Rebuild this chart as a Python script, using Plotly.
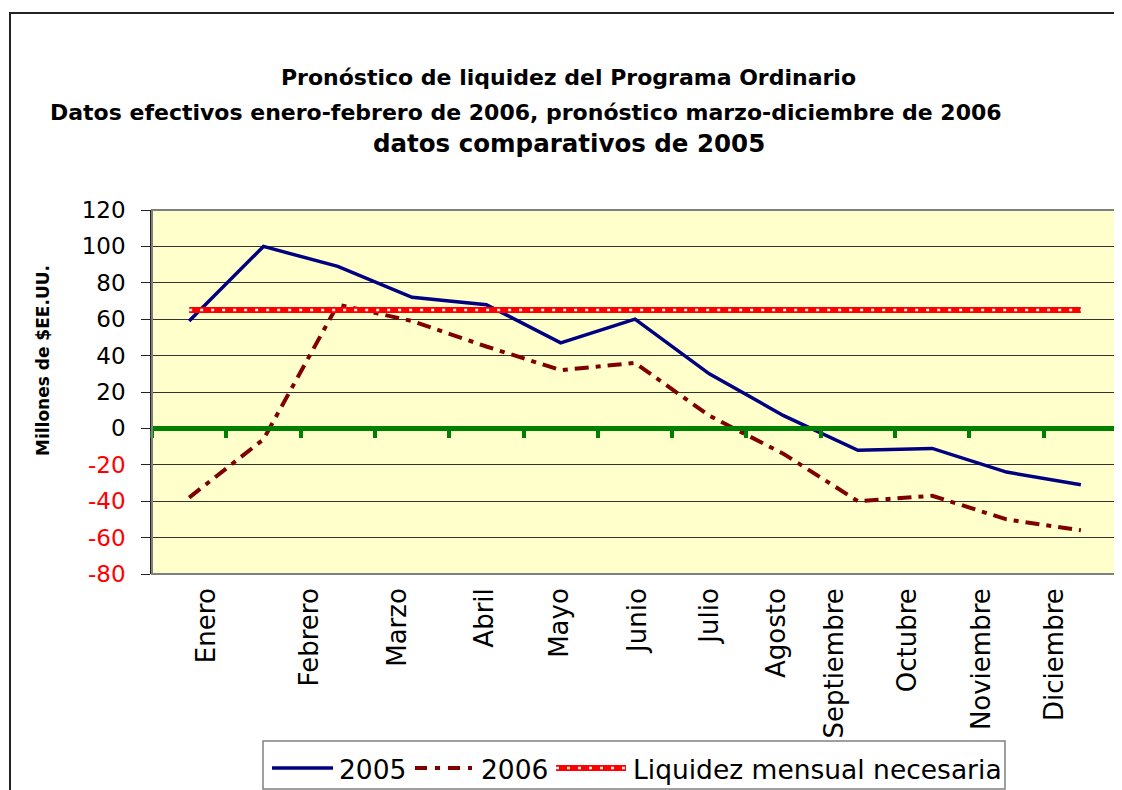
import plotly.graph_objects as go

# ---------------- data ----------------
MONTHS = ["Enero", "Febrero", "Marzo", "Abril", "Mayo", "Junio", "Julio",
          "Agosto", "Septiembre", "Octubre", "Noviembre", "Diciembre"]
SERIES_2005 = [59, 100, 89, 72, 68, 47, 60, 30, 7, -12, -11, -24, -31]
SERIES_2006 = [-38, -6, 68, 59, 45, 32, 36, 7, -14, -40, -37, -50, -56]
LIQUIDEZ = [65, 65, 65, 65, 65, 65, 65, 65, 65, 65, 65, 65, 65]
Y_TICKS = [120, 100, 80, 60, 40, 20, 0, -20, -40, -60, -80]
LEGEND_NAMES = ["2005", "2006", "Liquidez mensual necesaria"]

# label positions along the category axis (as drawn in the original)
MONTH_LABEL_POS = [0.24, 1.62, 2.80, 3.98, 4.99, 6.04, 7.01, 7.91, 8.69, 9.67, 10.67, 11.65]

X = list(range(len(SERIES_2005)))
FONT = "DejaVu Sans"

W, H = 1122, 790
OFF = 8  # page body margin in the screenshot
# plot area in screenshot pixels: x 152..1118, y 210..574
L = 152 - OFF
T = 210 - OFF
R = W - (1118 - OFF)
B = H - (574 - OFF)
PW, PH = W - L - R, H - T - B


def px_x(p):
    return (p - OFF - L) / PW


def px_y(p):
    return (H - B - (p - OFF)) / PH


C2005 = "#000080"
C2006 = "#800000"
CLIQ = "#FF0000"
CLIQ_IN = "#FFF0F0"
DASH2006 = "14px,7px,5px,7px"
DASH_LIQ_IN = "3px,8px"

fig = go.Figure()

fig.add_trace(go.Scatter(x=X, y=SERIES_2005, mode="lines", name=LEGEND_NAMES[0],
                         line=dict(color=C2005, width=3.5)))
fig.add_trace(go.Scatter(x=X, y=SERIES_2006, mode="lines", name=LEGEND_NAMES[1],
                         line=dict(color=C2006, width=4, dash=DASH2006)))
fig.add_trace(go.Scatter(x=X, y=LIQUIDEZ, mode="lines", name=LEGEND_NAMES[2],
                         line=dict(color=CLIQ, width=6)))
fig.add_trace(go.Scatter(x=X, y=LIQUIDEZ, mode="lines", name=LEGEND_NAMES[2],
                         line=dict(color=CLIQ_IN, width=2.5, dash=DASH_LIQ_IN), hoverinfo="skip"))
# invisible trace to activate the zero-line axis
fig.add_trace(go.Scatter(x=[X[0]], y=[0], xaxis="x2", mode="markers",
                         marker=dict(opacity=0), hoverinfo="skip"))

ytext = [(f'<span style="color:#FF0000">{v}</span>' if v < 0 else str(v)) for v in Y_TICKS]

fig.update_layout(
    width=W, height=H,
    margin=dict(l=L, r=R, t=T, b=B),
    paper_bgcolor="white",
    plot_bgcolor="#FFFFCC",
    font=dict(family=FONT, color="black"),
    showlegend=False,
    xaxis=dict(range=[-0.5, 12.5], showgrid=False, zeroline=False, showline=False,
               tickmode="array", tickvals=MONTH_LABEL_POS, ticktext=MONTHS,
               tickangle=-90, ticks="", tickfont=dict(size=26, family=FONT),
               ticklabelstandoff=8),
    xaxis2=dict(range=[-0.5, 12.5], overlaying="x", anchor="free", position=0.4,
                side="bottom", showgrid=False, zeroline=False, showline=True,
                linecolor="#008000", linewidth=5, ticks="outside",
                tickmode="array", tickvals=[i - 0.5 for i in range(len(X) + 1)],
                ticklen=7, tickwidth=4, tickcolor="#008000", showticklabels=False),
    yaxis=dict(range=[-80, 120], tickmode="array", tickvals=Y_TICKS, ticktext=ytext,
               showgrid=True, gridcolor="#333333", gridwidth=1, zeroline=False,
               showline=True, linecolor="#222222", linewidth=1.5,
               ticks="outside", ticklen=9, tickcolor="#222222",
               tickfont=dict(size=23, family=FONT), ticklabelstandoff=11),
)

# plot frame (gray)
fig.add_shape(type="rect", xref="paper", yref="paper", x0=0, x1=1, y0=0, y1=1,
              line=dict(color="#808080", width=2), layer="above")
# outer chart border
fig.add_shape(type="rect", xref="paper", yref="paper",
              x0=px_x(10), x1=px_x(1150), y0=px_y(830), y1=px_y(13),
              line=dict(color="#222222", width=2), layer="below")

# ---- legend (drawn to match the original's long samples) ----
LEG_Y = 768
fig.add_shape(type="rect", xref="paper", yref="paper",
              x0=px_x(263), x1=px_x(1005), y0=px_y(789), y1=px_y(741),
              line=dict(color="#808080", width=1.5), fillcolor="white", layer="above")
legend_items = [
    (272, 333, dict(color=C2005, width=3.5), None, 337),
    (415, 472, dict(color=C2006, width=4, dash="12px,8px,5px,8px"), None, 479),
    (556, 626, dict(color=CLIQ, width=6), dict(color=CLIQ_IN, width=2.5, dash=DASH_LIQ_IN), 631),
]
for (x0, x1, ln, ln2, tx), name in zip(legend_items, LEGEND_NAMES):
    fig.add_shape(type="line", xref="paper", yref="paper",
                  x0=px_x(x0), x1=px_x(x1), y0=px_y(LEG_Y), y1=px_y(LEG_Y),
                  line=ln, layer="above")
    if ln2:
        fig.add_shape(type="line", xref="paper", yref="paper",
                      x0=px_x(x0), x1=px_x(x1), y0=px_y(LEG_Y), y1=px_y(LEG_Y),
                      line=ln2, layer="above")
    fig.add_annotation(text=name, xref="paper", yref="paper", x=px_x(tx), y=px_y(LEG_Y + 1),
                       xanchor="left", yanchor="middle", showarrow=False,
                       font=dict(size=26.5, family=FONT))

# titles
fig.add_annotation(text="<b>Pronóstico de liquidez del Programa Ordinario</b>",
                   xref="paper", yref="paper", x=px_x(568), y=px_y(78),
                   showarrow=False, font=dict(size=22, family=FONT), xanchor="center", yanchor="middle")
fig.add_annotation(text="<b>Datos efectivos enero-febrero de 2006, pronóstico marzo-diciembre de 2006</b>",
                   xref="paper", yref="paper", x=px_x(526), y=px_y(112),
                   showarrow=False, font=dict(size=22, family=FONT), xanchor="center", yanchor="middle")
fig.add_annotation(text="<b>datos comparativos de 2005</b>",
                   xref="paper", yref="paper", x=px_x(569), y=px_y(143),
                   showarrow=False, font=dict(size=24.5, family=FONT), xanchor="center", yanchor="middle")
# y-axis title
fig.add_annotation(text="<b>Millones de $EE.UU.</b>", xref="paper", yref="paper",
                   x=px_x(43), y=px_y(361), textangle=-90, showarrow=False,
                   font=dict(size=17, family=FONT), xanchor="center", yanchor="middle")

fig.write_html("out.html")
